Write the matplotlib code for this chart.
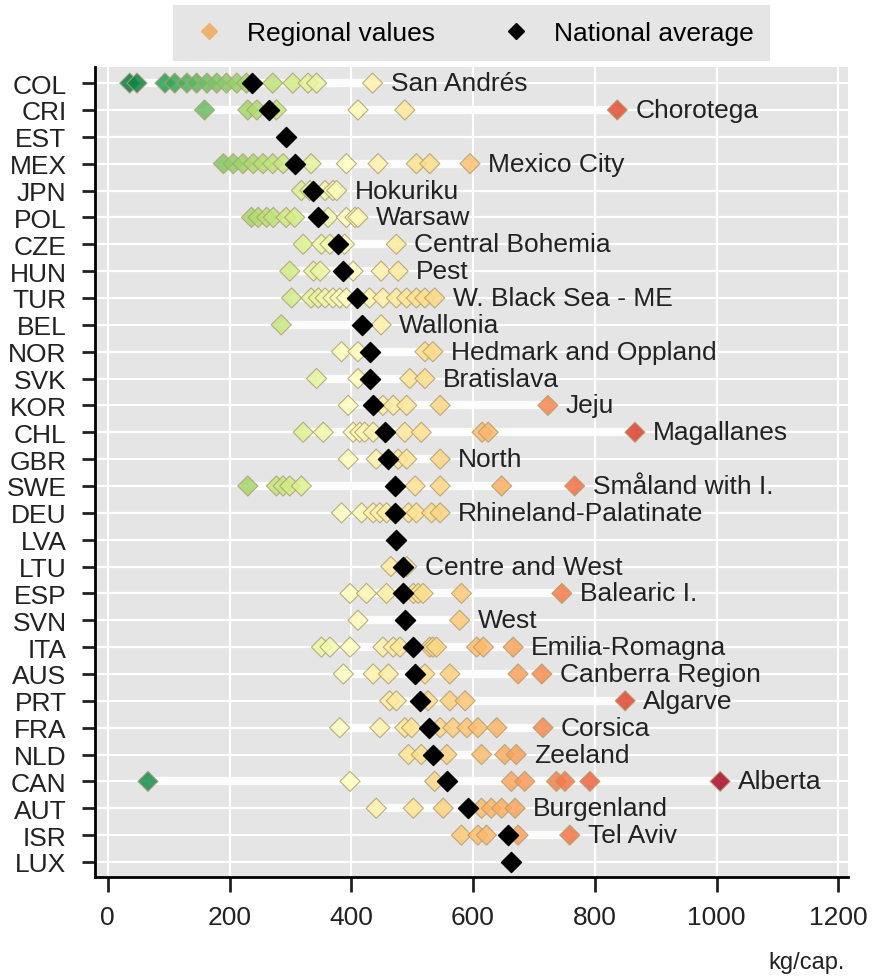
import numpy as np
import matplotlib.pyplot as plt
from matplotlib.colors import TwoSlopeNorm
from matplotlib.lines import Line2D

plt.rcParams['font.family'] = ['Liberation Sans Narrow', 'Liberation Sans', 'DejaVu Sans']

# countries, top to bottom
countries = ['COL', 'CRI', 'EST', 'MEX', 'JPN', 'POL', 'CZE', 'HUN', 'TUR', 'BEL',
             'NOR', 'SVK', 'KOR', 'CHL', 'GBR', 'SWE', 'DEU', 'LVA', 'LTU', 'ESP',
             'SVN', 'ITA', 'AUS', 'PRT', 'FRA', 'NLD', 'CAN', 'AUT', 'ISR', 'LUX']

national = [237, 265, 293, 307, 337, 345, 379, 387, 409, 417,
            430, 430, 436, 455, 461, 472, 472, 474, 485, 485,
            488, 502, 505, 513, 527, 534, 557, 592, 657, 663]

# regional values (kg per capita)
reg_col = [36, 48, 94, 110, 130, 146, 163, 179, 195, 212, 228, 271, 304, 329, 343, 435]
reg_cri = [159, 230, 245, 277, 411, 488, 837]
reg_est = []
reg_mex = [190, 206, 222, 239, 255, 271, 288, 334, 392, 444, 507, 529, 595]
reg_jpn = [318, 332, 357, 370, 376]
reg_pol = [236, 247, 261, 272, 293, 307, 362, 392, 406, 411]
reg_cze = [321, 351, 365, 389, 474]
reg_hun = [299, 338, 349, 403, 449, 477]
reg_tur = [302, 334, 346, 357, 370, 381, 392, 430, 452, 474, 491, 507, 521, 537]
reg_bel = [285, 449]
reg_nor = [384, 411, 521, 534]
reg_svk = [343, 411, 496, 521]
reg_kor = [395, 452, 469, 491, 546, 723]
reg_chl = [321, 354, 403, 414, 422, 436, 488, 515, 615, 625, 866]
reg_gbr = [395, 441, 477, 491, 546]
reg_swe = [230, 277, 288, 299, 318, 505, 546, 647, 767]
reg_deu = [384, 417, 436, 447, 458, 494, 507, 532, 546]
reg_lva = []
reg_ltu = [465, 491]
reg_esp = [398, 425, 458, 502, 510, 518, 581, 746]
reg_svn = [411, 578]
reg_ita = [351, 365, 398, 452, 469, 480, 529, 534, 540, 606, 617, 666]
reg_aus = [387, 436, 461, 521, 562, 674, 713]
reg_prt = [463, 474, 526, 562, 587, 850]
reg_fra = [381, 447, 488, 499, 546, 567, 590, 608, 639, 715]
reg_nld = [494, 515, 557, 614, 652, 671]
reg_can = [66, 398, 537, 663, 685, 737, 751, 792, 1006]
reg_aut = [441, 502, 551, 614, 630, 647, 669]
reg_isr = [581, 608, 622, 674, 759]
reg_lux = []

regional = [reg_col, reg_cri, reg_est, reg_mex, reg_jpn, reg_pol, reg_cze, reg_hun,
            reg_tur, reg_bel, reg_nor, reg_svk, reg_kor, reg_chl, reg_gbr, reg_swe,
            reg_deu, reg_lva, reg_ltu, reg_esp, reg_svn, reg_ita, reg_aus, reg_prt,
            reg_fra, reg_nld, reg_can, reg_aut, reg_isr, reg_lux]

top_region = ['San Andrés', 'Chorotega', '', 'Mexico City', 'Hokuriku', 'Warsaw',
              'Central Bohemia', 'Pest', 'W. Black Sea - ME', 'Wallonia',
              'Hedmark and Oppland', 'Bratislava', 'Jeju', 'Magallanes', 'North',
              'Småland with I.', 'Rhineland-Palatinate', '', 'Centre and West',
              'Balearic I.', 'West', 'Emilia-Romagna', 'Canberra Region', 'Algarve',
              'Corsica', 'Zeeland', 'Alberta', 'Burgenland', 'Tel Aviv', '']

W, H = 872, 978
fig = plt.figure(figsize=(W / 100, H / 100), dpi=100)
ax = fig.add_axes([95 / W, 1 - 878 / H, (848 - 95) / W, (878 - 68) / H])
ax.set_facecolor('#e5e5e5')

cmap = plt.get_cmap('RdYlGn_r')
norm = TwoSlopeNorm(vmin=0, vcenter=390, vmax=1030)

n = len(countries)
for i, vals in enumerate(regional):
    if vals:
        ax.plot([min(vals), max(vals)], [i, i], color='white', lw=6, alpha=0.9,
                solid_capstyle='butt', zorder=2)
        ax.scatter(vals, [i] * len(vals), marker='D', s=105, c=cmap(norm(np.array(vals))),
                   edgecolors='#b0a070', linewidths=0.8, alpha=0.85, zorder=3)
        ax.annotate(top_region[i], (max(vals), i), xytext=(13, 0),
                    textcoords='offset points', va='center', ha='left',
                    fontsize=19, color='#222222', zorder=5)
    ax.scatter([national[i]], [i], marker='D', s=105, color='black', zorder=4)

ax.set_xlim(-21, 1216)
ax.set_ylim(n - 1 + 0.56, -0.6)
ax.set_xticks(range(0, 1201, 200))
ax.set_yticks(range(n))
ax.set_yticklabels(countries)
ax.grid(color='white', lw=1.6)
ax.set_axisbelow(True)
for s in ['top', 'right']:
    ax.spines[s].set_visible(False)
for s in ['left', 'bottom']:
    ax.spines[s].set_linewidth(2)
ax.tick_params(axis='y', length=9.5, width=2, pad=11, labelsize=19, colors='#222222')
ax.tick_params(axis='x', length=10.5, width=2, pad=10, labelsize=19, colors='#222222')

handles = [Line2D([], [], marker='D', ls='none', markersize=8, color='#f0b070'),
           Line2D([], [], marker='D', ls='none', markersize=8, color='black')]
ax.legend(handles, ['Regional values', 'National average'], loc='lower center',
          bbox_to_anchor=(0.5, 1.0074), borderaxespad=0, ncol=2, frameon=True,
          facecolor='#e5e5e5', edgecolor='none', fancybox=False, fontsize=19,
          handlelength=1.5, handletextpad=0.71, columnspacing=2.3, borderpad=0.6,
          framealpha=1)

fig.text(845 / W, 1 - 963 / H, 'kg/cap.', ha='right', va='center', fontsize=17,
         color='#222222')

fig.savefig('out.png', dpi=100)
